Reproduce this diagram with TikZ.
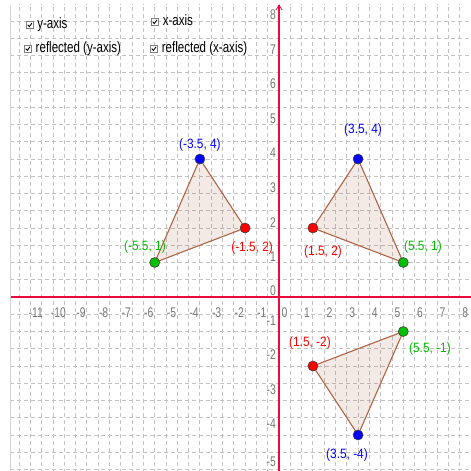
\documentclass[tikz,border=0pt]{standalone}
\usepackage{fontspec}
\setmainfont{Liberation Sans}
\usetikzlibrary{arrows.meta}
\definecolor{axisred}{RGB}{235,10,60}
\definecolor{gridgray}{RGB}{195,195,195}
\definecolor{bordergray}{RGB}{210,210,210}
\definecolor{tickgray}{RGB}{120,120,120}
\definecolor{polybrown}{RGB}{153,51,0}
\definecolor{edgebrown}{RGB}{175,100,70}
\definecolor{ptblue}{RGB}{0,0,255}
\definecolor{ptred}{RGB}{255,0,0}
\definecolor{ptgreen}{RGB}{0,190,0}
\begin{document}
\begin{tikzpicture}[x=22.6pt,y=34.5pt,
  gridline/.style={gridgray, line width=0.8pt, dash pattern=on 4pt off 3pt},
  axisline/.style={axisred, line width=2.8pt},
  ticklab/.style={tickgray, font=\fontsize{14}{14}\selectfont, xscale=0.74, inner sep=0pt},
  ytick/.style={ticklab, anchor=east},
  trifill/.style={fill=polybrown, fill opacity=0.1},
  triedge/.style={draw=edgebrown, line width=1.1pt},
  dot/.style={circle, draw=black!75, line width=0.6pt, minimum size=10pt, inner sep=0pt},
  ptlabel/.style={font=\fontsize{13.5}{13.5}\selectfont, xscale=0.88, inner sep=0pt},
  cbtext/.style={font=\fontsize{15}{15}\selectfont, xscale=0.77, anchor=mid west, inner sep=0pt},
  cbox/.style={draw=gray, line width=0.6pt, minimum size=7pt, inner sep=0pt, fill=white,
    path picture={\draw[black, line width=0.9pt]
      ([xshift=-2.2pt,yshift=0.3pt]path picture bounding box.center) -- ++(1.6pt,-1.8pt) -- ++(2.6pt,3.6pt);}}
]
\useasboundingbox (-12.345,-5.043) rectangle (8.496,8.609);
\fill[white] (-12.345,-5.043) rectangle (8.496,8.609);

% grid
\begin{scope}
\clip (-11.86,-5.043) rectangle (8.496,8.464);
\foreach \x in {-11.5,-11,...,8.5} \draw[gridline] (\x,-5.1) -- (\x,8.5);
\foreach \y in {-5,-4.5,...,8.5} \draw[gridline] (-11.9,\y) -- (8.5,\y);
\end{scope}
\draw[bordergray, line width=1pt] (-11.86,-5.043) -- (-11.86,8.464);

% axes
\coordinate (xl) at (-11.86,0);
\coordinate (xr) at (8.496,0);
\coordinate (yb) at (0,-5.043);
\coordinate (yt) at (0,8.464);
\draw[axisline] (xl) -- (xr);
\draw[axisline] (yb) -- (yt);
\draw[axisred, line width=0.7pt] (yt) -- ++(3pt,-5pt);
\draw[axisred, line width=0.7pt] (yt) -- ++(-3pt,-5pt);

% tick labels
\foreach \v in {-11,-10,-9,-8,-7,-6,-5,-4,-3,-2,-1,0,1,2,3,4,5,6,7,8}
  \node[ticklab] (xt\v) at (\v+0.24,-0.46) {\v};
\foreach \v in {1,2,3,4,5,6,7,8}
  \node[ytick] (yt\v) at (-0.13,\v+0.17) {\v};
\node[ytick] (yt0) at (-0.13,0.18) {0};
\foreach \v in {-1,-2,-3,-4}
  \node[ytick] (yt\v) at (-0.13,\v+0.32) {\v};
\node[ytick] (yt-5) at (-0.13,-4.78) {-5};

% checkboxes
\node[cbox] (cb1) at (-11.02,7.88) {};
\node[cbtext] (ct1) at (-10.70,7.86) {y-axis};
\node[cbox] (cb2) at (-11.11,7.19) {};
\node[cbtext] (ct2) at (-10.77,7.17) {reflected (y-axis)};
\node[cbox] (cb3) at (-5.49,7.97) {};
\node[cbtext] (ct3) at (-5.15,7.95) {x-axis};
\node[cbox] (cb4) at (-5.53,7.19) {};
\node[cbtext] (ct4) at (-5.19,7.17) {reflected (x-axis)};

% triangle points
\coordinate (A1) at (-3.5,4);
\coordinate (B1) at (-1.5,2);
\coordinate (C1) at (-5.5,1);
\coordinate (A2) at (3.5,4);
\coordinate (B2) at (1.5,2);
\coordinate (C2) at (5.5,1);
\coordinate (A3) at (3.5,-4);
\coordinate (B3) at (1.5,-2);
\coordinate (C3) at (5.5,-1);

\foreach \i in {1,2,3} {
  \fill[trifill] (A\i) -- (B\i) -- (C\i) -- cycle;
  \draw[triedge] (A\i) -- (B\i) -- (C\i) -- cycle;
}

\node[dot, fill=ptblue]  (dA1) at (A1) {};
\node[dot, fill=ptred]   (dB1) at (B1) {};
\node[dot, fill=ptgreen] (dC1) at (C1) {};
\node[dot, fill=ptblue]  (dA2) at (A2) {};
\node[dot, fill=ptred]   (dB2) at (B2) {};
\node[dot, fill=ptgreen] (dC2) at (C2) {};
\node[dot, fill=ptblue]  (dA3) at (A3) {};
\node[dot, fill=ptred]   (dB3) at (B3) {};
\node[dot, fill=ptgreen] (dC3) at (C3) {};

% labels
\node[ptlabel, ptblue]  (lA1) at (-3.50,4.42) {(-3.5, 4)};
\node[ptlabel, ptred]   (lB1) at (-1.19,1.42) {(-1.5, 2)};
\node[ptlabel, ptgreen] (lC1) at (-5.93,1.45) {(-5.5, 1)};
\node[ptlabel, ptblue]  (lA2) at (3.72,4.84) {(3.5, 4)};
\node[ptlabel, ptred]   (lB2) at (1.95,1.30) {(1.5, 2)};
\node[ptlabel, ptgreen] (lC2) at (6.37,1.45) {(5.5, 1)};
\node[ptlabel, ptblue]  (lA3) at (3.01,-4.58) {(3.5, -4)};
\node[ptlabel, ptred]   (lB3) at (1.37,-1.33) {(1.5, -2)};
\node[ptlabel, ptgreen] (lC3) at (6.68,-1.51) {(5.5, -1)};
\end{tikzpicture}
\end{document}
